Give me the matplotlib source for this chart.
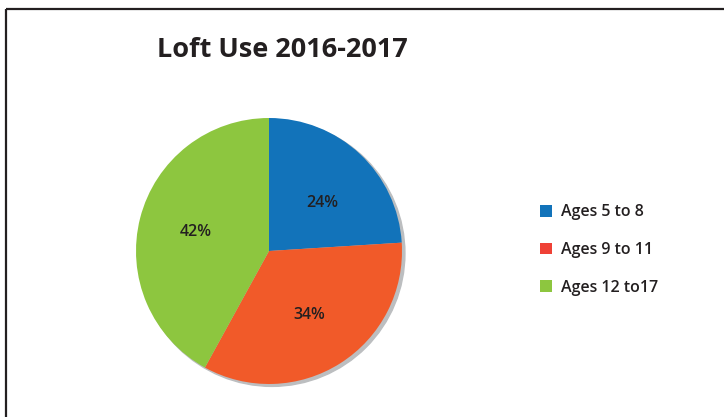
import matplotlib
matplotlib.use("Agg")
import matplotlib.pyplot as plt
from matplotlib.patches import Circle, Patch
from matplotlib.lines import Line2D

# data
labels = ["Ages 5 to 8", "Ages 9 to 11", "Ages 12 to17"]
values = [24, 34, 42]
slice_colors = ["#1273ba", "#f15a29", "#8dc63f"]
legend_colors = ["#1273ba", "#ef4136", "#8dc63f"]

W, H = 724, 417
fig = plt.figure(figsize=(W / 100, H / 100), dpi=100)
fig.patch.set_facecolor("white")

# frame lines (left and top only)
ink = "#231f20"
fig.add_artist(Line2D([6 / W, 6 / W], [0, 1 - 9 / H], transform=fig.transFigure,
                      color=ink, lw=1.6, solid_capstyle="butt"))
fig.add_artist(Line2D([6 / W, 1], [1 - 9 / H, 1 - 9 / H], transform=fig.transFigure,
                      color=ink, lw=1.6, solid_capstyle="butt"))

fig.text(282 / W, 1 - 50 / H, "Loft Use 2016-2017", ha="center", va="center",
         fontsize=19.5, fontweight="bold", family="Open Sans", color=ink)

# pie axes: center (269, 251) px, radius 133 px
cx, cy, r = 269, 251, 133
half = 145
ax = fig.add_axes([(cx - half) / W, (H - cy - half) / H, 2 * half / W, 2 * half / H])
lim = half / r
ax.axis("off")

ax.add_patch(Circle((0.022, -0.018), 1.0, color="#bcbec0", zorder=0))
wedges, texts, autotexts = ax.pie(values, colors=slice_colors, startangle=90,
                                  counterclock=False, radius=1.0,
                                  autopct="%d%%", pctdistance=0.57,
                                  textprops=dict(fontsize=11.5, color=ink,
                                                 family="Open Sans", fontweight="semibold"),
                                  wedgeprops=dict(linewidth=0, zorder=1))
ax.set_xlim(-lim, lim)
ax.set_ylim(-lim, lim)
ax.set_aspect("equal")
autotexts[0].set_position((0.40, 0.36))

handles = [Patch(facecolor=c, edgecolor="none") for c in legend_colors]
fig.legend(handles, labels, loc="upper left", bbox_to_anchor=(526 / W, 1 - 190 / H),
           frameon=False, handlelength=0.75, handleheight=0.75,
           handletextpad=0.55, labelspacing=1.35,
           prop=dict(family="Open Sans", weight="semibold", size=11.5))
for t in fig.legends[0].get_texts():
    t.set_color(ink)

fig.savefig("out.png", dpi=100)
